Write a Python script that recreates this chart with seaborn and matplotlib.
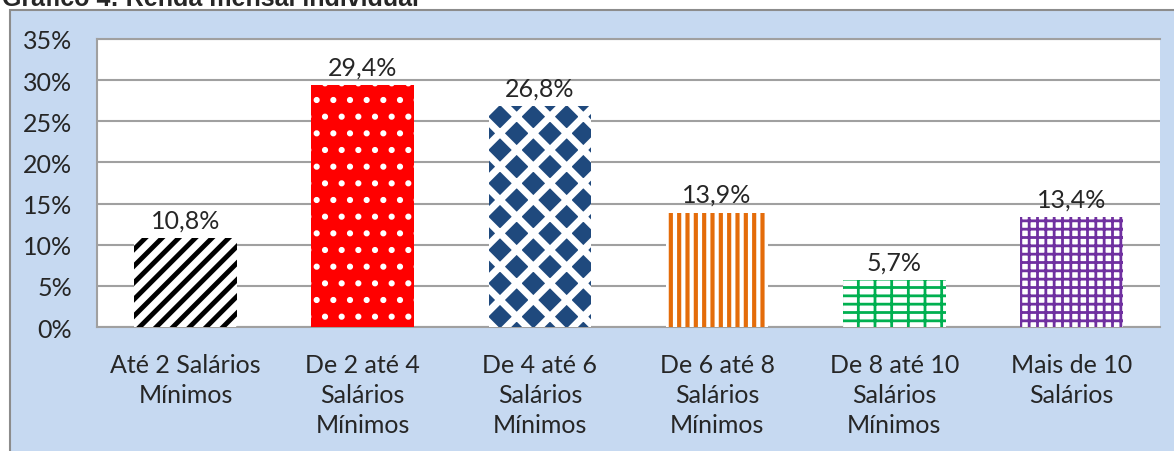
import matplotlib.pyplot as plt
import matplotlib.patches as mpatches
import seaborn as sns

# dados do gráfico
categorias = ["Até 2 Salários\nMínimos", "De 2 até 4\nSalários\nMínimos", "De 4 até 6\nSalários\nMínimos",
              "De 6 até 8\nSalários\nMínimos", "De 8 até 10\nSalários\nMínimos", "Mais de 10\nSalários"]
valores = [10.8, 29.4, 26.8, 13.9, 5.7, 13.4]
rotulos = ["10,8%", "29,4%", "26,8%", "13,9%", "5,7%", "13,4%"]
yticks = [0, 5, 10, 15, 20, 25, 30, 35]

# estilo de cada barra: (fundo, cor da hachura, hachura, espessura)
estilos = [("white", "black", "//", 3.5),
           ("#FF0000", "white", ".", 2.0),
           ("#1F497D", "white", "x", 5.0),
           ("white", "#E46C0A", "||", 3.0),
           ("white", "#00B050", "--|", 2.0),
           ("white", "#7030A0", "++", 2.0)]

sns.set_style("white")
plt.rcParams['font.family'] = ['Lato', 'DejaVu Sans']

fig = plt.figure(figsize=(11.74, 4.52), dpi=100)
fig.patch.set_facecolor("white")

# moldura azul do gráfico
moldura = mpatches.Rectangle((10 / 1174, -0.05), 1.1, 1 - 11 / 452 + 0.05, transform=fig.transFigure,
                             facecolor="#C6D9F1", edgecolor="#8C8C8C", linewidth=1.5, zorder=-10)
fig.patches.append(moldura)

fig.text(0.002, 1 - 6 / 452, "Gráfico 4: Renda mensal individual", family="Liberation Sans",
         fontweight="bold", fontsize=18, va="baseline", ha="left")

ax = fig.add_axes([97 / 1174, 1 - 328 / 452, (1160 - 97) / 1174, (328 - 40) / 452])
ax.set_facecolor("white")

sns.barplot(x=categorias, y=valores, color="white", width=0.58, ax=ax, zorder=3)

for patch, (fundo, cor, hach, esp) in zip(ax.patches, estilos):
    patch.set_facecolor(fundo)
    patch.set_edgecolor(cor)
    patch.set_hatch(hach)
    patch.set_linewidth(0)
    if hasattr(patch, "set_hatch_linewidth"):
        patch.set_hatch_linewidth(esp)

for i, (v, r) in enumerate(zip(valores, rotulos)):
    ax.text(i, v + 0.8, r, ha="center", va="bottom", fontsize=18)

ax.set_ylim(0, 35)
ax.set_yticks(yticks)
ax.set_yticklabels([f"{t}%" for t in yticks], fontsize=18)
ax.tick_params(axis="x", labelsize=18, pad=19, length=0)
ax.tick_params(axis="y", pad=18, length=0)
for lbl in ax.get_xticklabels():
    lbl.set_linespacing(1.35)
ax.grid(axis="y", color="#A0A0A0", linewidth=1.5, zorder=0)
ax.set_axisbelow(True)
for lado in ["left", "top", "bottom"]:
    ax.spines[lado].set_color("#A0A0A0")
    ax.spines[lado].set_linewidth(1.5)
ax.spines["right"].set_visible(False)
ax.set_xlim(-0.5, 5.5)

fig.savefig("out.png", dpi=100, facecolor=fig.get_facecolor())
